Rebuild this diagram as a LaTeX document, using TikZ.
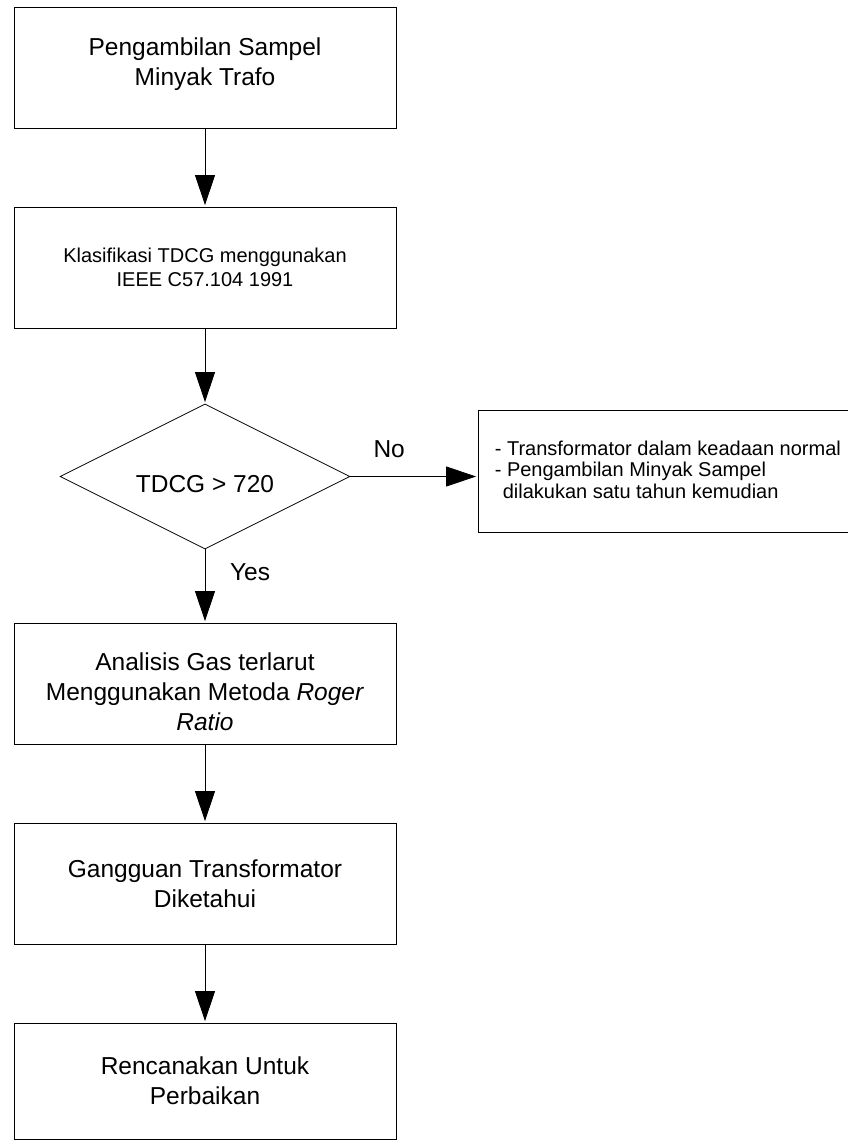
\documentclass[tikz,border=0pt]{standalone}
\usepackage{fontspec}
\setmainfont{Liberation Sans}
\usetikzlibrary{shapes.geometric,arrows.meta}
\begin{document}
\begin{tikzpicture}[x=1pt,y=1pt,
  box/.style={draw=black, line width=0.8pt, minimum width=382pt, minimum height=121pt,
    inner sep=0pt, align=center, font=\fontsize{24.5}{30}\selectfont},
  smallbox/.style={box, font=\fontsize{20}{24}\selectfont},
  notebox/.style={draw=black, line width=0.8pt, minimum width=392pt, minimum height=122pt,
    inner sep=0pt},
  notetext/.style={anchor=west, xshift=17pt, yshift=1.5pt, inner sep=0pt, align=left,
    font=\fontsize{20}{21.5}\selectfont},
  decision/.style={diamond, aspect=2, draw=black, line width=0.8pt, minimum width=290pt,
    minimum height=145pt, inner sep=0pt},
  lbl/.style={font=\fontsize{24.5}{30}\selectfont, inner sep=0pt},
  arr/.style={draw=black, line width=0.8pt, -{Triangle[length=30pt,width=20pt]}, shorten >=1.5pt}
]
\useasboundingbox (0,0) rectangle (848,-1140);

\node[box, label={[lbl, align=center, yshift=3pt]center:{Pengambilan Sampel\\Minyak Trafo}}] (b1) at (205,-67.5) {};
\node[smallbox] (b2) at (205,-267.5) {Klasifikasi TDCG menggunakan\\IEEE C57.104 1991};
\node[decision, label={[lbl, yshift=-8pt]center:TDCG > 720}] (d) at (205,-476.5) {};
\node[box, label={[lbl, align=center, yshift=-8.5pt]center:{Analisis Gas terlarut\\Menggunakan Metoda \textit{Roger}\\\textit{Ratio}}}] (b3) at (205,-683.5) {};
\node[box] (b4) at (205,-883.5) {Gangguan Transformator\\Diketahui};
\node[box, minimum height=116pt] (b5) at (205,-1081) {Rencanakan Untuk\\Perbaikan};
\node[notebox, label={[notetext]west:{- Transformator dalam keadaan normal\\- Pengambilan Minyak Sampel\\\hspace*{8pt}dilakukan satu tahun kemudian}}] (r) at (674,-471) {};

\draw[arr] (b1.south) -- (b2.north);
\draw[arr] (b2.south) -- (d.north);
\draw[arr] (d.east) -- node[lbl, pos=0.305, yshift=27pt] (no) {No} (d.east -| r.west);
\draw[arr] (d.south) -- node[lbl, pos=0.31, xshift=45pt] (yes) {Yes} (b3.north);
\draw[arr] (b3.south) -- (b4.north);
\draw[arr] (b4.south) -- (b5.north);
\end{tikzpicture}
\end{document}
